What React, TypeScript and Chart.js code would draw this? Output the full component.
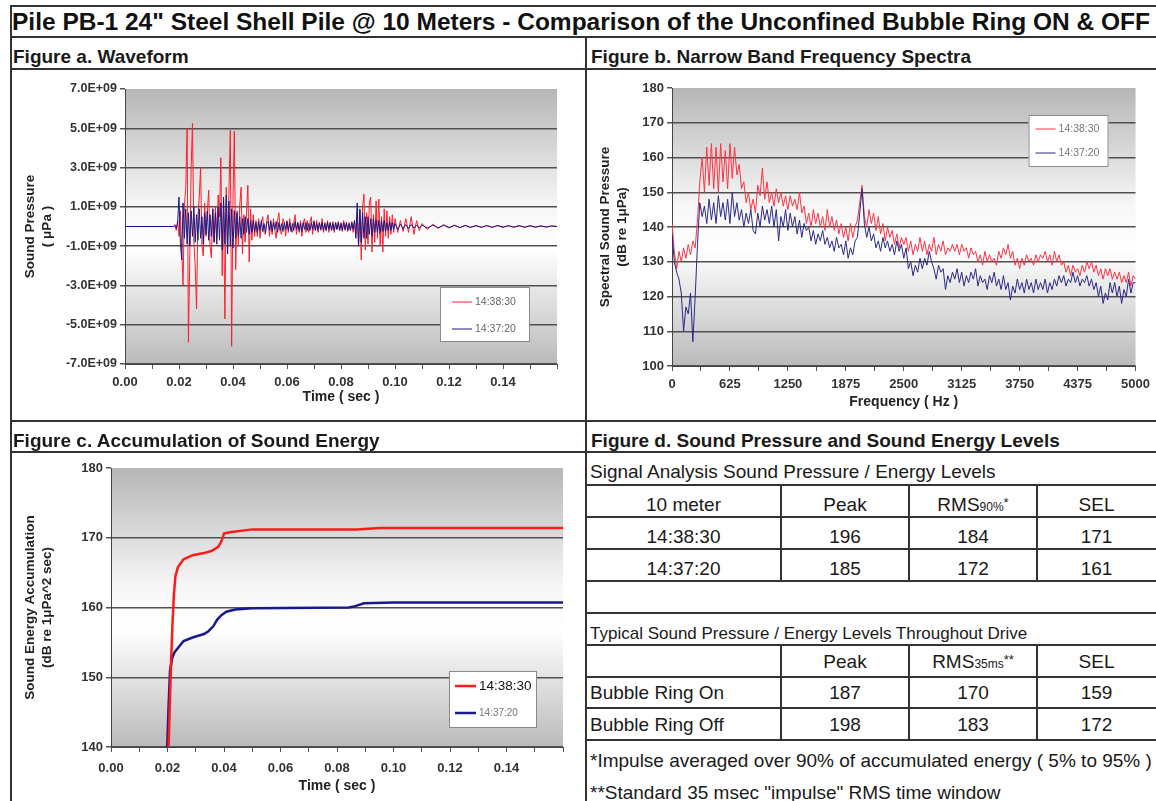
import React, { useEffect, useLayoutEffect, useRef } from 'react';
import { Chart, registerables } from 'chart.js';

Chart.register(...registerables);

if (typeof document !== 'undefined') {
  document.body.style.margin = '0';
}

const FONT = '"Liberation Sans", Arial, Helvetica, sans-serif';
const NARROW_FONT = '"Liberation Sans Narrow", "Arial Narrow", "Liberation Sans", Arial, sans-serif';
const RED = '#ff1e2d';
const NAVY = '#1a1a84';

const TITLE = 'Pile PB-1 24" Steel Shell Pile @ 10 Meters - Comparison of the Unconfined Bubble Ring ON & OFF';
const PANEL_A = 'Figure a. Waveform';
const PANEL_B = 'Figure b. Narrow Band Frequency Spectra';
const PANEL_C = 'Figure c. Accumulation of Sound Energy';
const PANEL_D = 'Figure d. Sound Pressure and Sound Energy Levels';

const seriesLabels = ['14:38:30', '14:37:20'];

// ---------- Figure a: waveform (time in ms, pressure in 1E+09 µPa) ----------
const waveTimeMs = [
  0,
  18, 18.5, 19, 19.5, 20, 20.5, 21, 21.5, 22, 22.5,
  23, 23.5, 24, 24.5, 25, 25.5, 26, 26.5, 27, 27.5,
  28, 28.5, 29, 29.5, 30, 30.5, 31, 31.5, 32, 32.5,
  33, 33.5, 34, 34.5, 35, 35.5, 36, 36.5, 37, 37.5,
  38, 38.5, 39, 39.5, 40, 40.5, 41, 41.5, 42, 42.5,
  43, 43.5, 44, 44.5, 45, 45.5, 46, 46.5, 47, 47.5,
  48,
  48.5, 49, 49.5, 50, 50.5, 51, 51.5, 52, 52.5, 53,
  53.5, 54, 54.5, 55, 55.5, 56, 56.5, 57, 57.5, 58,
  58.5, 59, 59.5, 60, 60.5, 61, 61.5, 62, 62.5, 63,
  63.5, 64, 64.5, 65, 65.5, 66, 66.5, 67, 67.5, 68,
  68.5, 69, 69.5, 70, 70.5, 71, 71.5, 72, 72.5, 73,
  73.5, 74, 74.5, 75, 75.5, 76, 76.5, 77, 77.5, 78,
  78.5, 79, 79.5, 80, 80.5, 81, 81.5, 82, 82.5, 83,
  83.5, 84, 84.5, 85,
  85.5, 86, 86.5, 87, 87.5, 88, 88.5, 89, 89.5, 90,
  90.5, 91, 91.5, 92, 92.5, 93, 93.5, 94, 94.5, 95,
  95.5, 96, 96.5, 97, 97.5, 98, 98.5, 99, 99.5, 100,
  101, 102, 103, 104, 105, 106, 107, 108, 109, 110,
  112, 114, 116, 118, 120, 122, 124, 126, 128, 130,
  132, 134, 136, 138, 140, 142, 144, 146, 148, 150,
  152, 154, 156, 158, 160,
];

const waveRedE9 = [
  0,
  0, 0.1, -0.2, 0.3, -0.5, 0.8, -1.2, -3.0, 1.0, 2.0,
  5.0, -5.9, -1.5, 3.0, 5.25, -0.8, -2.0, -4.2, 0.5, 1.5,
  3.0, -1.0, -1.5, 1.2, -0.5, 0.8, 1.85, -1.0, -1.6, 0.9,
  -0.8, 1.0, -0.6, 1.6, 0.5, 3.5, -2.5, 1.0, -4.7, 2.0,
  -1.0, 1.8, 4.9, -6.1, 1.5, 4.85, -2.2, 0.8, -1.0, 1.1,
  2.0, -1.4, 0.6, -0.8, 0.7, 2.1, -1.8, 0.9, -0.7, 0.6,
  -0.5,
  0.3, -0.5, 0.4, -0.6, 0.2, 0.5, -0.3, -0.4, 0.3, 0.6,
  -0.5, 0.2, -0.4, 0.4, -0.2, -0.6, 0.3, 0.7, -0.3, -0.4,
  0.4, 0.2, -0.5, 0.3, -0.3, 0.4, -0.2, -0.3, 0.2, 0.6,
  -0.4, 0.2, -0.3, 0.3, -0.5, 0.2, 0.4, -0.3, 0.3, -0.3,
  0.2, 0.5, -0.4, 0.3, -0.2, 0.3, -0.3, 0.2, -0.2, 0.4,
  -0.3, 0.2, -0.2, 0.3, -0.3, 0.2, -0.2, 0.25, -0.3, 0.2,
  -0.15, 0.25, -0.2, 0.2, -0.25, 0.3, -0.2, 0.2, -0.25, 0.2,
  -0.2, 0.25, -0.3, 0.3,
  -0.4, 0.6, -1.0, 0.8, -1.7, 1.0, 1.65, -1.2, 0.7, -0.9,
  1.2, 1.5, -1.3, 0.6, -0.8, 1.3, -0.6, 1.4, -1.0, 0.5,
  -1.3, 0.9, -0.5, 0.8, -0.6, 0.5, -0.4, 0.6, -0.3, 0.4,
  -0.3, 0.3, -0.25, 0.4, -0.3, 0.5, -0.4, 0.3, -0.2, 0.15,
  -0.15, 0.12, -0.1, 0.1, -0.08, 0.08, -0.06, 0.06, -0.05, 0.05,
  -0.04, 0.05, -0.04, 0.04, -0.03, 0.04, -0.03, 0.03, -0.03, 0.03,
  -0.02, 0.02, -0.02, 0.02, 0,
];

const waveNavyE9 = [
  0,
  0, 0.05, -0.1, 0.2, 1.5, -0.8, -1.7, 1.2, -0.6, 0.9,
  -0.9, 0.7, -1.0, 0.8, -0.5, 1.0, -0.8, 0.6, -0.7, 0.9,
  -0.6, 0.5, -0.9, 0.7, -0.4, 0.8, -0.7, 0.6, -0.5, 0.9,
  -0.8, 0.7, -0.9, 1.0, -0.7, 1.2, -1.2, 1.5, -0.9, 1.6,
  -1.4, 1.3, -1.0, 0.9, -1.1, 0.8, -0.6, 0.7, -0.5, 0.5,
  -0.6, 0.4, -0.4, 0.5, -0.3, 0.4, -0.4, 0.3, -0.3, 0.3,
  -0.25,
  0.2, -0.3, 0.25, -0.2, 0.3, -0.25, 0.15, -0.3, 0.2, 0.25,
  -0.2, 0.3, -0.25, 0.2, -0.15, 0.25, -0.3, 0.2, -0.2, 0.15,
  -0.25, 0.2, -0.15, 0.25, -0.2, 0.2, -0.25, 0.15, -0.2, 0.25,
  -0.15, 0.2, -0.2, 0.15, -0.25, 0.2, -0.15, 0.2, -0.2, 0.15,
  -0.2, 0.2, -0.15, 0.25, -0.2, 0.15, -0.2, 0.2, -0.15, 0.2,
  -0.2, 0.15, -0.2, 0.2, -0.15, 0.2, -0.2, 0.15, -0.2, 0.2,
  -0.15, 0.2, -0.2, 0.15, -0.2, 0.2, -0.15, 0.2, -0.2, 0.15,
  -0.2, 0.2, -0.15, 0.3,
  -0.6, 1.2, -1.0, 0.9, -0.8, 0.7, -0.6, 0.5, -0.6, 0.5,
  -0.4, 0.4, -0.5, 0.4, -0.3, 0.35, -0.3, 0.3, -0.35, 0.3,
  -0.25, 0.3, -0.25, 0.2, -0.2, 0.25, -0.2, 0.2, -0.15, 0.15,
  -0.15, 0.12, -0.12, 0.1, -0.1, 0.1, -0.08, 0.08, -0.08, 0.07,
  -0.07, 0.06, -0.06, 0.06, -0.05, 0.05, -0.05, 0.05, -0.04, 0.04,
  -0.04, 0.04, -0.04, 0.05, -0.04, 0.04, -0.04, 0.05, -0.04, 0.04,
  -0.04, 0.03, -0.03, 0.03, 0,
];

// ---------- Figure b: narrow band spectra ----------
const specFreqHz = [
  0, 25, 50, 75, 100, 125, 150, 175, 200, 225,
  250, 275, 300, 325, 350, 375, 400, 425, 450, 475,
  500, 525, 550, 575, 600, 625, 650, 675, 700, 725,
  750, 775, 800, 825, 850, 875, 900, 925, 950, 975,
  1000, 1025, 1050, 1075, 1100, 1125, 1150, 1175, 1200, 1225,
  1250, 1275, 1300, 1325, 1350, 1375, 1400, 1425, 1450, 1475,
  1500, 1525, 1550, 1575, 1600, 1625, 1650, 1675, 1700, 1725,
  1750, 1775, 1800, 1825, 1850, 1875, 1900, 1925, 1950, 1975,
  2000, 2025, 2050, 2075, 2100, 2125, 2150, 2175, 2200, 2225,
  2250, 2275, 2300, 2325, 2350, 2375, 2400, 2425, 2450, 2475,
  2500, 2525, 2550, 2575, 2600, 2625, 2650, 2675, 2700, 2725,
  2750, 2775, 2800, 2825, 2850, 2875, 2900, 2925, 2950, 2975,
  3000, 3025, 3050, 3075, 3100, 3125, 3150, 3175, 3200, 3225,
  3250, 3275, 3300, 3325, 3350, 3375, 3400, 3425, 3450, 3475,
  3500, 3525, 3550, 3575, 3600, 3625, 3650, 3675, 3700, 3725,
  3750, 3775, 3800, 3825, 3850, 3875, 3900, 3925, 3950, 3975,
  4000, 4025, 4050, 4075, 4100, 4125, 4150, 4175, 4200, 4225,
  4250, 4275, 4300, 4325, 4350, 4375, 4400, 4425, 4450, 4475,
  4500, 4525, 4550, 4575, 4600, 4625, 4650, 4675, 4700, 4725,
  4750, 4775, 4800, 4825, 4850, 4875, 4900, 4925, 4950, 4975,
  5000,
];

const specRedDb = [
  141, 133, 128, 133, 130, 134, 131, 135, 132, 136,
  134, 142, 153, 160, 150, 163, 152, 164, 151, 163,
  150, 164, 153, 162, 151, 164, 154, 163, 155, 158,
  151, 153, 147, 150, 145, 148, 144, 152, 149, 157,
  148, 153, 147, 150, 146, 151, 147, 150, 146, 149,
  145, 149, 146, 148, 145, 150, 144, 146, 141, 144,
  140, 145, 141, 144, 140, 143, 139, 145, 140, 143,
  139, 142, 138, 141, 137, 140, 136, 141, 137, 140,
  142, 147, 152, 143, 140, 145, 141, 144, 139, 143,
  138, 141, 136, 140, 137, 139, 135, 138, 134, 137,
  135, 137, 133, 136, 132, 135, 133, 137, 133, 136,
  132, 135, 133, 137, 132, 135, 133, 136, 132, 134,
  133, 135, 133, 135, 132, 135, 133, 134, 131, 134,
  132, 133, 130, 132, 129, 133, 130, 132, 130, 131,
  129, 133, 131, 134, 132, 135, 131, 133, 129, 131,
  128, 131, 129, 132, 130, 131, 129, 132, 130, 132,
  131, 133, 130, 132, 129, 133, 130, 132, 129, 130,
  127, 129, 126, 129, 127, 128, 126, 129, 127, 130,
  128, 130, 127, 129, 126, 128, 125, 128, 126, 128,
  125, 127, 125, 127, 124, 126, 124, 127, 123, 126,
  125,
];

const specNavyDb = [
  138, 130, 127, 125, 121, 110, 117, 115, 121, 107,
  120, 135, 147, 143, 146, 141, 148, 142, 147, 141,
  149, 143, 147, 142, 148, 141, 150, 143, 147, 142,
  145, 140, 144, 141, 145, 139, 138, 144, 140, 146,
  142, 145, 141, 146, 140, 145, 136, 143, 140, 145,
  139, 144, 140, 143, 138, 142, 137, 141, 139, 140,
  136, 139, 135, 138, 136, 139, 135, 137, 134, 136,
  133, 137, 134, 135, 132, 136, 131, 134, 132, 136,
  137, 144, 151, 141, 137, 140, 136, 138, 134, 136,
  133, 137, 134, 136, 133, 135, 132, 136, 133, 135,
  131, 134, 128, 130, 126, 129, 127, 131, 128, 131,
  129, 133, 130, 128, 125, 129, 127, 128, 122, 126,
  124, 127, 125, 128, 124, 127, 123, 126, 124, 127,
  125, 128, 123, 126, 124, 125, 122, 126, 124, 127,
  123, 125, 122, 126, 122, 124, 119, 123, 121, 125,
  122, 124, 121, 125, 122, 124, 121, 125, 122, 124,
  122, 125, 121, 124, 122, 125, 123, 126, 124, 126,
  123, 125, 124, 127, 124, 126, 123, 125, 124, 126,
  123, 125, 122, 124, 120, 123, 118, 121, 119, 124,
  121, 124, 120, 123, 118, 122, 120, 125, 121, 124,
  124,
];

// ---------- Figure c: accumulation of sound energy ----------
const accumRedTimeMs = [20.4, 20.8, 21.3, 21.8, 22.3, 22.8, 23.7, 25.7, 28.9, 32.9, 35.5, 38, 39.2, 40, 42, 50, 87, 95, 160];
const accumRedDb = [140, 146, 152.5, 158, 162, 164.5, 165.8, 166.9, 167.5, 167.8, 168.1, 168.7, 169.6, 170.6, 170.8, 171.2, 171.2, 171.4, 171.4];
const accumNavyTimeMs = [19.9, 20.4, 20.9, 21.7, 22.5, 23.7, 25.7, 28.9, 32.9, 34.5, 36.2, 37.5, 38.8, 40.8, 44, 50, 84.2, 86.5, 89.5, 100, 160];
const accumNavyDb = [140, 146, 151, 152.8, 153.6, 154.2, 155.2, 155.7, 156.2, 156.6, 157.3, 158.2, 158.8, 159.4, 159.7, 159.9, 160.0, 160.2, 160.6, 160.7, 160.7];

// ---------- Figure d: tables ----------
const sigCaption = 'Signal Analysis Sound Pressure / Energy Levels';
const sigColHeads = ['10 meter', 'Peak', 'RMS', 'SEL'];
const sigRmsSub = '90%';
const sigRmsMark = '*';
const sigRowLabels = ['14:38:30', '14:37:20'];
const sigPeak = [196, 185];
const sigRms = [184, 172];
const sigSel = [171, 161];

const typCaption = 'Typical Sound Pressure / Energy Levels Throughout Drive';
const typColHeads = ['', 'Peak', 'RMS', 'SEL'];
const typRmsSub = '35ms';
const typRmsMark = '**';
const typRowLabels = ['Bubble Ring On', 'Bubble Ring Off'];
const typPeak = [187, 198];
const typRms = [170, 183];
const typSel = [159, 172];

const FOOT1 = '*Impulse averaged over 90% of accumulated energy ( 5% to 95% )';
const FOOT2 = '**Standard 35 msec "impulse" RMS time window';

// ---------- plugins ----------
const plotBg = {
  id: 'plotBg',
  beforeDraw(chart: any) {
    const a = chart.chartArea;
    if (!a) return;
    const ctx = chart.ctx;
    const g = ctx.createLinearGradient(0, a.top, 0, a.bottom);
    g.addColorStop(0, '#b6b6b6');
    g.addColorStop(0.42, '#f6f6f6');
    g.addColorStop(0.58, '#ffffff');
    g.addColorStop(1, '#bababa');
    ctx.save();
    ctx.fillStyle = g;
    ctx.fillRect(a.left, a.top, a.right - a.left, a.bottom - a.top);
    ctx.restore();
  },
};

type LegendItemCfg = { dy: number; font: string; color: string; lw: number };
type LegendCfg = {
  right: number; top?: number; bottom?: number; width: number; height: number;
  lineX0: number; lineX1: number; textX: number; border: string; items: LegendItemCfg[];
};

function makeLegend(cfg: LegendCfg) {
  return {
    id: 'boxLegend',
    afterDatasetsDraw(chart: any) {
      const a = chart.chartArea;
      const ctx = chart.ctx;
      const x = a.right - cfg.right - cfg.width;
      const y = cfg.top !== undefined ? a.top + cfg.top : a.bottom - (cfg.bottom || 0) - cfg.height;
      ctx.save();
      ctx.fillStyle = '#ffffff';
      ctx.fillRect(x, y, cfg.width, cfg.height);
      ctx.strokeStyle = cfg.border;
      ctx.lineWidth = 1;
      ctx.strokeRect(x + 0.5, y + 0.5, cfg.width - 1, cfg.height - 1);
      chart.data.datasets.forEach((ds: any, i: number) => {
        const it = cfg.items[i];
        const cy = y + it.dy;
        ctx.strokeStyle = ds.borderColor;
        ctx.lineWidth = it.lw;
        ctx.beginPath();
        ctx.moveTo(x + cfg.lineX0, cy);
        ctx.lineTo(x + cfg.lineX1, cy);
        ctx.stroke();
        ctx.fillStyle = it.color;
        ctx.font = it.font;
        ctx.textBaseline = 'middle';
        ctx.textAlign = 'left';
        ctx.fillText(ds.label, x + cfg.textX, cy);
      });
      ctx.restore();
    },
  };
}

const tickFont = (size: number) => ({ family: FONT, size, weight: 'bold' as const, lineHeight: 1.2 });
const yTitleFont = { family: FONT, size: 13.5, weight: 'bold' as const, lineHeight: 1.25 };
const xTitleFont = { family: FONT, size: 14, weight: 'bold' as const, lineHeight: 1.2 };

function gridColor(maxVal: number) {
  return (c: any) => (c.tick && c.tick.value === maxVal ? 'rgba(0,0,0,0)' : '#505050');
}

function configA(): any {
  return {
    type: 'line',
    data: {
      datasets: [
        { label: seriesLabels[0], data: waveTimeMs.map((t, i) => ({ x: t, y: waveRedE9[i] })), borderColor: RED, borderWidth: 1, pointRadius: 0, order: 1 },
        { label: seriesLabels[1], data: waveTimeMs.map((t, i) => ({ x: t, y: waveNavyE9[i] })), borderColor: NAVY, borderWidth: 1, pointRadius: 0, order: 0 },
      ],
    },
    options: {
      responsive: false, animation: false, events: [],
      layout: { padding: { left: 4, right: 28, top: 19, bottom: 0 } },
      plugins: { legend: { display: false }, tooltip: { enabled: false } },
      scales: {
        x: {
          type: 'linear', min: 0, max: 160,
          afterFit: (s: any) => { s.height = 57; },
          ticks: { stepSize: 10, autoSkip: false, maxRotation: 0, padding: 6, color: '#333', font: tickFont(13),
            callback: (v: number) => (v % 20 === 0 && v < 160 ? (v / 1000).toFixed(2) : '') },
          grid: { drawOnChartArea: false, tickLength: 5, color: '#555' },
          border: { color: '#444' },
          title: { display: true, text: 'Time ( sec )', color: '#222', font: xTitleFont, padding: { top: 0, bottom: 15 } },
        },
        y: {
          min: -7, max: 7,
          afterFit: (s: any) => { s.width = 110; },
          ticks: { stepSize: 2, padding: 3, color: '#333', font: tickFont(12.5), callback: (v: number) => `${Number(v).toFixed(1)}E+09` },
          grid: { color: gridColor(7), lineWidth: 1.5, tickLength: 5, tickColor: '#555' },
          border: { color: '#444' },
          title: { display: true, text: ['Sound Pressure', '( μPa )'], color: '#222', font: yTitleFont, padding: { top: 6.5, bottom: 0 } },
        },
      },
    },
    plugins: [plotBg, makeLegend({
      right: 27, bottom: 22, width: 90, height: 55, lineX0: 12, lineX1: 32, textX: 35, border: '#8a8a8a',
      items: [
        { dy: 15, font: `10.5px ${FONT}`, color: '#666', lw: 1 },
        { dy: 42, font: `10.5px ${FONT}`, color: '#666', lw: 1 },
      ],
    })],
  };
}

function configB(): any {
  return {
    type: 'line',
    data: {
      datasets: [
        { label: seriesLabels[0], data: specFreqHz.map((f, i) => ({ x: f, y: specRedDb[i] })), borderColor: '#ff3344', borderWidth: 1, pointRadius: 0, order: 1 },
        { label: seriesLabels[1], data: specFreqHz.map((f, i) => ({ x: f, y: specNavyDb[i] })), borderColor: '#2a2a8a', borderWidth: 1, pointRadius: 0, order: 0 },
      ],
    },
    options: {
      responsive: false, animation: false, events: [],
      layout: { padding: { left: 4, right: 13, top: 18, bottom: 0 } },
      plugins: { legend: { display: false }, tooltip: { enabled: false } },
      scales: {
        x: {
          type: 'linear', min: 0, max: 5000,
          afterFit: (s: any) => { s.height = 55; },
          ticks: { stepSize: 312.5, autoSkip: false, maxRotation: 0, padding: 6, color: '#333', font: tickFont(13),
            callback: (v: number) => (v % 625 === 0 ? String(v) : '') },
          grid: { drawOnChartArea: false, tickLength: 5, color: '#555' },
          border: { color: '#444' },
          title: { display: true, text: 'Frequency ( Hz )', color: '#222', font: xTitleFont, padding: { top: 0, bottom: 10 } },
        },
        y: {
          min: 100, max: 180,
          afterFit: (s: any) => { s.width = 81; },
          ticks: { stepSize: 10, padding: 3, color: '#333', font: tickFont(13) },
          grid: { color: gridColor(180), lineWidth: 1.5, tickLength: 5, tickColor: '#555' },
          border: { color: '#444' },
          title: { display: true, text: ['Spectral Sound Pressure', '(dB re 1μPa)'], color: '#222', font: yTitleFont, padding: { top: 5.5, bottom: 0 } },
        },
      },
    },
    plugins: [plotBg, makeLegend({
      right: 27, top: 27, width: 80, height: 52, lineX0: 7, lineX1: 27, textX: 30, border: '#8a8a8a',
      items: [
        { dy: 14, font: `10.5px ${FONT}`, color: '#777', lw: 1 },
        { dy: 38, font: `10.5px ${FONT}`, color: '#777', lw: 1 },
      ],
    })],
  };
}

function configC(): any {
  return {
    type: 'line',
    data: {
      datasets: [
        { label: seriesLabels[0], data: accumRedTimeMs.map((t, i) => ({ x: t, y: accumRedDb[i] })), borderColor: '#ff1a1a', borderWidth: 2.5, pointRadius: 0 },
        { label: seriesLabels[1], data: accumNavyTimeMs.map((t, i) => ({ x: t, y: accumNavyDb[i] })), borderColor: '#1a1a8c', borderWidth: 2.5, pointRadius: 0 },
      ],
    },
    options: {
      responsive: false, animation: false, events: [],
      layout: { padding: { left: 4, right: 22, top: 15, bottom: 0 } },
      plugins: { legend: { display: false }, tooltip: { enabled: false } },
      scales: {
        x: {
          type: 'linear', min: 0, max: 160,
          afterFit: (s: any) => { s.height = 54; },
          ticks: { stepSize: 10, autoSkip: false, maxRotation: 0, padding: 9, color: '#333', font: tickFont(13),
            callback: (v: number) => (v % 20 === 0 && v < 160 ? (v / 1000).toFixed(2) : '') },
          grid: { drawOnChartArea: false, tickLength: 5, color: '#555' },
          border: { color: '#444' },
          title: { display: true, text: 'Time ( sec )', color: '#222', font: xTitleFont, padding: { top: 0, bottom: 6 } },
        },
        y: {
          min: 140, max: 180,
          afterFit: (s: any) => { s.width = 96; },
          ticks: { stepSize: 10, padding: 3, color: '#333', font: tickFont(13) },
          grid: { color: gridColor(180), lineWidth: 1.5, tickLength: 5, tickColor: '#555' },
          border: { color: '#444' },
          title: { display: true, text: ['Sound Energy Accumulation', '(dB re 1μPa^2 sec)'], color: '#222', font: yTitleFont, padding: { top: 6.5, bottom: 0 } },
        },
      },
    },
    plugins: [plotBg, makeLegend({
      right: 26, bottom: 19, width: 88, height: 57, lineX0: 6, lineX1: 27, textX: 30, border: '#8a8a8a',
      items: [
        { dy: 15, font: `13.5px ${FONT}`, color: '#111', lw: 2.5 },
        { dy: 42, font: `10px ${FONT}`, color: '#777', lw: 2.5 },
      ],
    })],
  };
}

// ---------- components ----------
function ChartBox({ left, top, width, height, make }: { left: number; top: number; width: number; height: number; make: () => any }) {
  const ref = useRef<HTMLCanvasElement>(null);
  useEffect(() => {
    const chart = new Chart(ref.current as HTMLCanvasElement, make());
    return () => chart.destroy();
  }, []);
  return <canvas ref={ref} width={width} height={height} style={{ position: 'absolute', left, top, width, height }} />;
}

function HLine({ y, x0, x1 }: { y: number; x0: number; x1: number }) {
  return <div style={{ position: 'absolute', left: x0, top: y - 1, width: x1 - x0, height: 2, background: '#333' }} />;
}
function VLine({ x, y0, y1 }: { x: number; y0: number; y1: number }) {
  return <div style={{ position: 'absolute', left: x - 1, top: y0, width: 2, height: y1 - y0, background: '#333' }} />;
}

function Txt({ x, cy, children, size = 19, bold = false, width, align = 'left', color = '#1a1a1a' }: any) {
  return (
    <div style={{ position: 'absolute', left: x, top: cy - 13, height: 26, lineHeight: '26px', width, textAlign: align,
      fontSize: size, fontWeight: bold ? 'bold' : 'normal', whiteSpace: 'nowrap', color }}>
      {children}
    </div>
  );
}

function Title() {
  const ref = useRef<HTMLDivElement>(null);
  useLayoutEffect(() => {
    const el = ref.current;
    if (!el) return;
    const w = el.getBoundingClientRect().width;
    if (w > 0) el.style.transform = `scaleX(${1138 / w})`;
  }, []);
  return (
    <div ref={ref} style={{ position: 'absolute', left: 12, top: 8, height: 28, lineHeight: '28px', fontSize: 23, fontWeight: 'bold',
      fontFamily: NARROW_FONT, whiteSpace: 'nowrap', display: 'inline-block', transformOrigin: '0 0', color: '#111' }}>
      {TITLE}
    </div>
  );
}

const COLS = [586, 781, 909, 1037, 1156];

function Rms({ sub, mark }: { sub: string; mark: string }) {
  return (
    <span>RMS<span style={{ fontSize: 12 }}>{sub}</span><span style={{ fontSize: 13, position: 'relative', top: -4 }}>{mark}</span></span>
  );
}

function TableD() {
  const colW = (i: number) => COLS[i + 1] - COLS[i];
  const sigHeadY = 505;
  const sigRowY = [537, 569];
  const typHeadY = 662;
  const typRowY = [693, 725];
  const cells: any[] = [];
  sigColHeads.forEach((h, i) => {
    cells.push(<Txt key={`sh${i}`} x={COLS[i]} width={colW(i)} align="center" cy={sigHeadY}>{h === 'RMS' ? <Rms sub={sigRmsSub} mark={sigRmsMark} /> : h}</Txt>);
  });
  sigRowLabels.forEach((lab, r) => {
    const vals = [lab, sigPeak[r], sigRms[r], sigSel[r]];
    vals.forEach((v, i) => cells.push(<Txt key={`s${r}${i}`} x={COLS[i]} width={colW(i)} align="center" cy={sigRowY[r]}>{v}</Txt>));
  });
  typColHeads.forEach((h, i) => {
    cells.push(<Txt key={`th${i}`} x={COLS[i]} width={colW(i)} align="center" cy={typHeadY}>{h === 'RMS' ? <Rms sub={typRmsSub} mark={typRmsMark} /> : h}</Txt>);
  });
  typRowLabels.forEach((lab, r) => {
    const vals = [lab, typPeak[r], typRms[r], typSel[r]];
    vals.forEach((v, i) => cells.push(
      i === 0
        ? <Txt key={`t${r}${i}`} x={COLS[0] + 4} cy={typRowY[r]}>{v}</Txt>
        : <Txt key={`t${r}${i}`} x={COLS[i]} width={colW(i)} align="center" cy={typRowY[r]}>{v}</Txt>,
    ));
  });
  const hl = [485, 517, 549, 581, 613, 645, 677, 708, 740];
  return (
    <>
      <Txt x={590} cy={472}>{sigCaption}</Txt>
      <Txt x={590} cy={634} size={17}>{typCaption}</Txt>
      {cells}
      <Txt x={590} cy={761}>{FOOT1}</Txt>
      <Txt x={590} cy={793}>{FOOT2}</Txt>
      {hl.map((y) => <HLine key={`h${y}`} y={y} x0={585} x1={1156} />)}
      {[781, 909, 1037].map((x) => <React.Fragment key={`v${x}`}><VLine x={x} y0={485} y1={581} /><VLine x={x} y0={645} y1={740} /></React.Fragment>)}
    </>
  );
}

export default function App() {
  return (
    <div style={{ position: 'relative', width: 1156, height: 801, overflow: 'hidden', background: '#fff', fontFamily: FONT, color: '#1a1a1a' }}>
      <ChartBox left={11} top={70} width={574} height={351} make={configA} />
      <ChartBox left={587} top={70} width={569} height={351} make={configB} />
      <ChartBox left={11} top={453} width={574} height={348} make={configC} />

      <Title />
      <Txt x={13} cy={57} bold>{PANEL_A}</Txt>
      <Txt x={591} cy={57} bold>{PANEL_B}</Txt>
      <Txt x={13} cy={441} bold>{PANEL_C}</Txt>
      <Txt x={591} cy={441} bold>{PANEL_D}</Txt>

      <TableD />

      <HLine y={6} x0={10} x1={1156} />
      <VLine x={11} y0={5} y1={801} />
      <HLine y={37} x0={10} x1={1156} />
      <HLine y={69} x0={10} x1={1156} />
      <HLine y={421} x0={10} x1={1156} />
      <HLine y={452} x0={10} x1={1156} />
      <VLine x={586} y0={37} y1={801} />
    </div>
  );
}
